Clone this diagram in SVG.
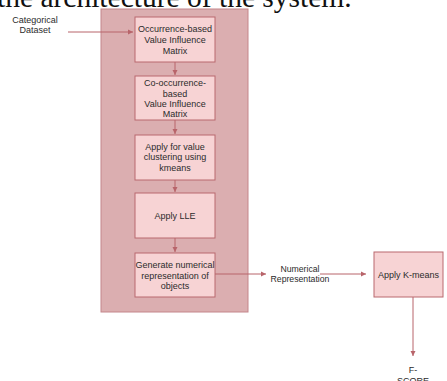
<svg xmlns="http://www.w3.org/2000/svg" width="447" height="381" viewBox="0 0 447 381">
<defs>
<style>
.t{font-family:"Liberation Sans",Arial,sans-serif;font-size:9px;fill:#2b2b2b;text-anchor:middle}
.b{fill:#f7d3d4;stroke:#b9686e;stroke-width:1}
.c{stroke:#b8646a;stroke-width:1;fill:none}
</style>
<marker id="ah" markerWidth="6" markerHeight="6" refX="5" refY="3" orient="auto" markerUnits="userSpaceOnUse">
<path d="M0,0.5 L5,3 L0,5.5 Z" fill="#b8646a"/>
</marker>
</defs>
<rect width="447" height="381" fill="#ffffff"/>
<text x="-3" y="7" font-family="Liberation Serif,'Times New Roman',serif" font-size="29.5" fill="#111">the architecture of the system.</text>
<g id="container">
<rect x="101" y="9" width="147" height="303" fill="#dbaeb0" stroke="#c4868b" stroke-width="1"/>
</g>
<g id="connectors">
<line class="c" x1="68" y1="32" x2="133" y2="32" marker-end="url(#ah)"/>
<line class="c" x1="175" y1="62" x2="175" y2="75" marker-end="url(#ah)"/>
<line class="c" x1="175" y1="120" x2="175" y2="134" marker-end="url(#ah)"/>
<line class="c" x1="175" y1="180" x2="175" y2="192" marker-end="url(#ah)"/>
<line class="c" x1="175" y1="238" x2="175" y2="252" marker-end="url(#ah)"/>
<line class="c" x1="215" y1="274" x2="266" y2="274" marker-end="url(#ah)"/>
<line class="c" x1="320" y1="274" x2="366" y2="274" marker-end="url(#ah)"/>
<line class="c" x1="413" y1="297" x2="413" y2="356" marker-end="url(#ah)"/>
</g>
<g id="categorical">
<text class="t" x="35" y="23">Categorical</text>
<text class="t" x="35" y="33">Dataset</text>
</g>
<g id="box1">
<rect class="b" x="135" y="17" width="80" height="45"/>
<text class="t" x="175" y="32">Occurrence-based</text>
<text class="t" x="175" y="43">Value Influence</text>
<text class="t" x="175" y="54">Matrix</text>
</g>
<g id="box2">
<rect class="b" x="135" y="76" width="80" height="44"/>
<text class="t" x="175" y="86">Co-occurrence-</text>
<text class="t" x="175" y="97">based</text>
<text class="t" x="175" y="107">Value Influence</text>
<text class="t" x="175" y="117">Matrix</text>
</g>
<g id="box3">
<rect class="b" x="135" y="135" width="80" height="45"/>
<text class="t" x="175" y="150">Apply for value</text>
<text class="t" x="175" y="160">clustering using</text>
<text class="t" x="175" y="171">kmeans</text>
</g>
<g id="box4">
<rect class="b" x="135" y="193" width="80" height="45"/>
<text class="t" x="175" y="219">Apply LLE</text>
</g>
<g id="box5">
<rect class="b" x="135" y="253" width="80" height="44"/>
<text class="t" x="175" y="268">Generate numerical</text>
<text class="t" x="175" y="279">representation of</text>
<text class="t" x="175" y="289">objects</text>
</g>
<g id="numrep">
<text class="t" x="300" y="272" style="font-size:8.7px">Numerical</text>
<text class="t" x="300" y="282" style="font-size:8.7px">Representation</text>
</g>
<g id="kmeans">
<rect class="b" x="374" y="252" width="69" height="45"/>
<text class="t" x="408.5" y="278">Apply K-means</text>
</g>
<g id="fscore">
<text class="t" x="413" y="373">F-</text>
<text class="t" x="413" y="384">SCORE</text>
</g>
</svg>
